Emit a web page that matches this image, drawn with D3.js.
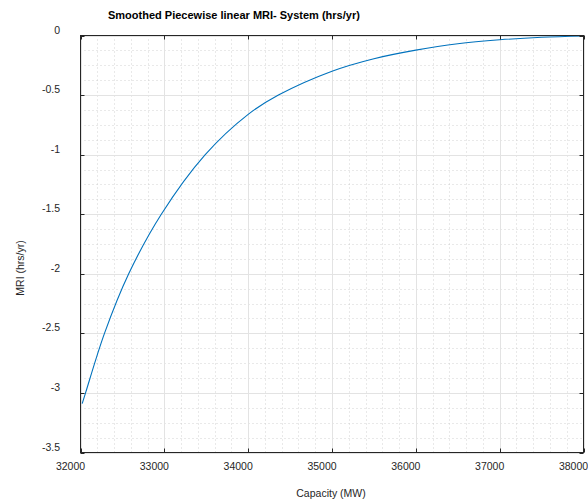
<!DOCTYPE html>
<html><head><meta charset="utf-8">
<script src="https://cdn.jsdelivr.net/npm/d3@7"></script>
<style>body{margin:0;background:#fff}svg{display:block;font-family:"Liberation Sans",Arial,sans-serif}</style>
</head><body><svg id="c" width="588" height="500"></svg>
<script>
const capacity = [32020, 32060, 32286, 32575, 32964, 33488, 34000, 34361, 35000, 35500, 36000, 36500, 37000, 37500, 38000];
const mri = [-3.09, -3.00, -2.50, -2.00, -1.50, -1.00, -0.662, -0.50, -0.30, -0.195, -0.123, -0.069, -0.036, -0.015, -0.004];
const xTicks = [32000, 33000, 34000, 35000, 36000, 37000, 38000];
const yTicks = [0, -0.5, -1, -1.5, -2, -2.5, -3, -3.5];
const yTickLabels = ["0", "-0.5", "-1", "-1.5", "-2", "-2.5", "-3", "-3.5"];
const titleText = "Smoothed Piecewise linear MRI- System (hrs/yr)";
const xLabel = "Capacity (MW)";
const yLabel = "MRI (hrs/yr)";

const svg = d3.select("#c");
const L = 80.5, R = 583.5, T = 35.5, B = 452.5;
const x = d3.scaleLinear().domain([32000, 38000]).range([L, R]);
const y = d3.scaleLinear().domain([-3.5, 0]).range([B, T]);

// minor grid
const xMinor = d3.range(32000, 38001, 200).filter(v => v % 1000 !== 0);
const yMinor = d3.range(-3.5, 0.001, 0.125).filter(v => Math.abs(v * 2 - Math.round(v * 2)) > 1e-6);
const g = svg.append("g");
g.selectAll(".xm").data(xMinor).enter().append("line")
  .attr("x1", d => Math.round(x(d)) + 0.5).attr("x2", d => Math.round(x(d)) + 0.5)
  .attr("y1", T).attr("y2", B).attr("stroke", "#c8c8c8").attr("stroke-width", 0.8).attr("stroke-dasharray", "1,3");
g.selectAll(".ym").data(yMinor).enter().append("line")
  .attr("y1", d => Math.round(y(d)) + 0.5).attr("y2", d => Math.round(y(d)) + 0.5)
  .attr("x1", L).attr("x2", R).attr("stroke", "#c8c8c8").attr("stroke-width", 0.8).attr("stroke-dasharray", "1,3");
// major grid
g.selectAll(".xM").data(xTicks).enter().append("line")
  .attr("x1", d => Math.round(x(d)) + 0.5).attr("x2", d => Math.round(x(d)) + 0.5)
  .attr("y1", T).attr("y2", B).attr("stroke", "#e3e3e3").attr("stroke-width", 1);
g.selectAll(".yM").data(yTicks).enter().append("line")
  .attr("y1", d => Math.round(y(d)) + 0.5).attr("y2", d => Math.round(y(d)) + 0.5)
  .attr("x1", L).attr("x2", R).attr("stroke", "#e3e3e3").attr("stroke-width", 1);

// curve
const line = d3.line().x((d, i) => x(capacity[i])).y(d => y(d)).curve(d3.curveCatmullRom.alpha(0.5));
svg.append("path").datum(mri).attr("d", line).attr("fill", "none")
  .attr("stroke", "#0072BD").attr("stroke-width", 1.1);

// axes box
const ax = "#262626";
svg.append("rect").attr("x", L).attr("y", T).attr("width", R - L).attr("height", B - T)
  .attr("fill", "none").attr("stroke", ax).attr("stroke-width", 1);
const tl = 4;
xTicks.forEach(v => {
  const px = Math.round(x(v)) + 0.5;
  svg.append("line").attr("x1", px).attr("x2", px).attr("y1", B).attr("y2", B - tl).attr("stroke", ax);
  svg.append("line").attr("x1", px).attr("x2", px).attr("y1", T).attr("y2", T + tl).attr("stroke", ax);
});
yTicks.forEach(v => {
  const py = Math.round(y(v)) + 0.5;
  svg.append("line").attr("y1", py).attr("y2", py).attr("x1", L).attr("x2", L + tl).attr("stroke", ax);
  svg.append("line").attr("y1", py).attr("y2", py).attr("x1", R).attr("x2", R - tl).attr("stroke", ax);
});

// tick labels
svg.selectAll(".xl").data(xTicks).enter().append("text")
  .attr("x", d => x(d) - 10).attr("y", 470).attr("text-anchor", "middle")
  .attr("font-size", "10.5px").attr("fill", ax).text(d => d);
svg.selectAll(".yl").data(yTicks).enter().append("text")
  .attr("x", 60).attr("y", d => y(d) - 2).attr("text-anchor", "end")
  .attr("font-size", "10.5px").attr("fill", ax).text((d, i) => yTickLabels[i]);

// labels
svg.append("text").attr("x", 331).attr("y", 497).attr("text-anchor", "middle")
  .attr("font-size", "10.5px").attr("fill", ax).text(xLabel);
svg.append("text").attr("transform", "translate(24,268) rotate(-90)").attr("text-anchor", "middle")
  .attr("font-size", "10.5px").attr("fill", ax).text(yLabel);
svg.append("text").attr("x", 108).attr("y", 19).attr("text-anchor", "start")
  .attr("font-size", "11px").attr("font-weight", "bold").attr("fill", "#000").text(titleText);
</script></body></html>
